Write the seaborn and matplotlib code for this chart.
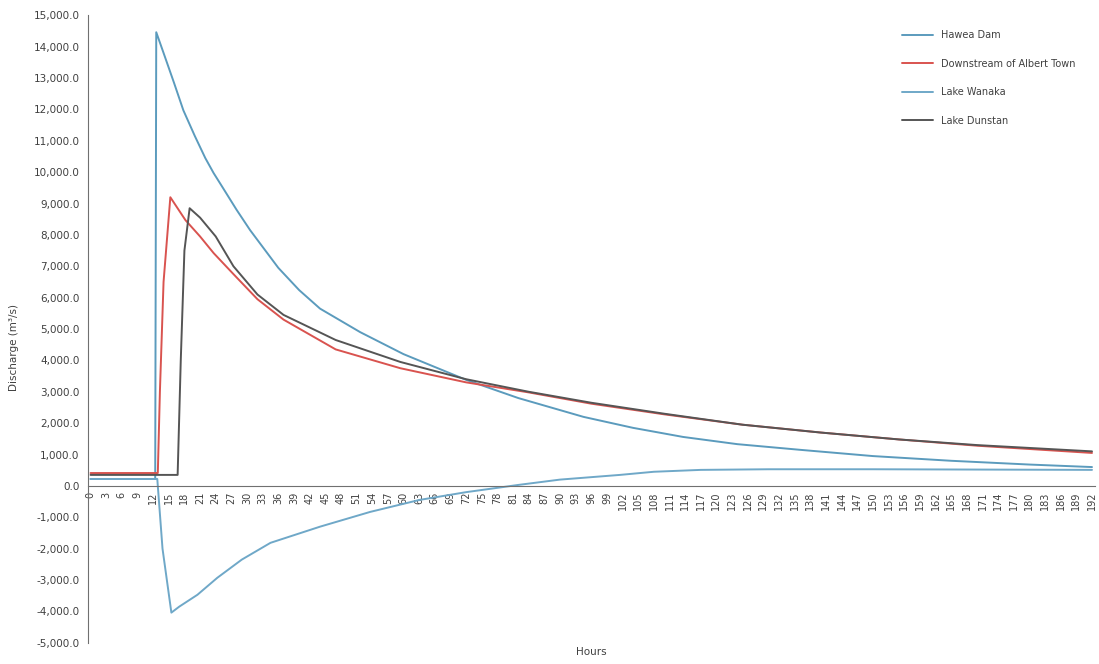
import matplotlib
matplotlib.use("Agg")
import numpy as np
import pandas as pd
import matplotlib.pyplot as plt
import seaborn as sns

# values (hours, discharge m3/s)
hawea_hours = [0, 12, 12.4, 12.6, 14, 16, 17.8, 20, 22, 23.6, 25, 28, 30.6, 36, 40, 44, 51.7,
               60, 72, 82, 94.5, 104, 113.6, 124, 136, 150, 165, 180, 192]
hawea_q = [220, 220, 220, 14460, 13800, 12850, 11970, 11150, 10450, 9970, 9600, 8800, 8150,
           6950, 6240, 5650, 4900, 4200, 3380, 2800, 2200, 1850, 1560, 1330, 1150, 950, 800,
           680, 600]

albert_hours = [0, 12.9, 13.3, 14, 15.3, 18.2, 21, 23.6, 27.4, 32, 37, 47, 59.4, 72, 84, 96,
                110, 125, 140, 155, 170, 192]
albert_q = [410, 410, 3000, 6500, 9200, 8470, 7950, 7420, 6750, 5950, 5300, 4350, 3750, 3300,
            2980, 2620, 2280, 1950, 1700, 1480, 1280, 1050]

wanaka_hours = [0, 12.8, 13.8, 15.5, 17, 20.5, 24.3, 29, 34.5, 44, 53.6, 63, 72, 82, 90, 101.5,
                108, 117, 130, 150, 170, 192]
wanaka_q = [220, 220, -2000, -4040, -3850, -3470, -2930, -2350, -1815, -1300, -830, -450, -200,
            30, 200, 350, 450, 510, 530, 530, 520, 510]

dunstan_hours = [0, 16.7, 17.3, 18, 19, 21, 24, 27.4, 32, 37, 47, 59.4, 72, 84, 96, 110, 125,
                 140, 155, 170, 192]
dunstan_q = [350, 350, 4000, 7500, 8850, 8550, 7950, 7000, 6100, 5450, 4650, 3950, 3400, 3000,
             2650, 2300, 1950, 1700, 1480, 1300, 1100]

series_names = ["Hawea Dam", "Downstream of Albert Town", "Lake Wanaka", "Lake Dunstan"]
x_ticks = list(range(0, 193, 3))
y_ticks = list(range(-5000, 15001, 1000))

frames = []
for name, h, q in zip(series_names,
                      [hawea_hours, albert_hours, wanaka_hours, dunstan_hours],
                      [hawea_q, albert_q, wanaka_q, dunstan_q]):
    frames.append(pd.DataFrame({"Hours": h, "Discharge": q, "series": name}))
df = pd.concat(frames, ignore_index=True)

colors = {"Hawea Dam": "#5b9bbd", "Downstream of Albert Town": "#d9534f",
          "Lake Wanaka": "#6fa8c8", "Lake Dunstan": "#555555"}

sns.set_style("white")
plt.rcParams["font.family"] = ["DejaVu Sans"]

fig = plt.figure(figsize=(10.99, 6.64), dpi=100)
ax = fig.add_axes([0.080, 0.032, 0.916, 0.945])

sns.lineplot(data=df, x="Hours", y="Discharge", hue="series", hue_order=series_names,
             palette=colors, estimator=None, sort=False, lw=1.4, ax=ax)

# category axis sits on the zero line, as in Excel (do this before tick styling)
ax.spines["bottom"].set_position(("data", 0))
ax.spines["bottom"].set_color("#707070")
ax.spines["left"].set_color("#707070")
ax.spines["top"].set_visible(False)
ax.spines["right"].set_visible(False)

ax.set_xlim(-0.5, 192.5)
ax.set_ylim(-5000, 15000)
ax.set_yticks(y_ticks)
ax.set_yticklabels([f"{v:,.1f}" for v in y_ticks])
ax.set_xticks(x_ticks)
ax.set_xticklabels([str(v) for v in x_ticks])
ax.tick_params(axis="y", length=4, color="#707070", pad=2, labelsize=7.5, labelcolor="#404040")
ax.tick_params(axis="x", length=0, pad=4, labelsize=7, labelcolor="#404040", labelrotation=90)

ax.set_ylabel("Discharge (m³/s)", fontsize=7.5, color="#404040")
ax.yaxis.set_label_coords(-0.068, 0.47)
ax.set_xlabel("Hours", fontsize=7.5, color="#404040")
ax.xaxis.set_label_coords(0.5, -0.006)

handles, labels = ax.get_legend_handles_labels()
ax.legend(handles, labels, loc="upper left", bbox_to_anchor=(0.80, 0.99), frameon=False,
          fontsize=7, labelspacing=1.9, handlelength=3.2, labelcolor="#404040")

fig.savefig("out.png", dpi=100)
